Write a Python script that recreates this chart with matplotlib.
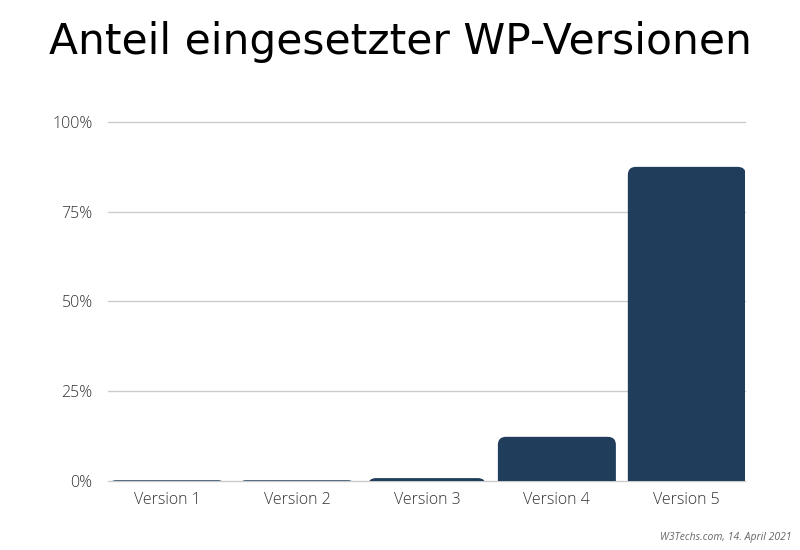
import matplotlib
matplotlib.use('Agg')
import matplotlib.pyplot as plt
from matplotlib.patches import FancyBboxPatch

# values (share of WordPress installs, %)
versions = ['Version 1', 'Version 2', 'Version 3', 'Version 4', 'Version 5']
shares = [0.2, 0.2, 0.8, 12.3, 87.5]
yticks = [0, 25, 50, 75, 100]
ytick_labels = ['0%', '25%', '50%', '75%', '100%']

bar_color = '#203d5b'
font = ['Open Sans', 'DejaVu Sans']

fig = plt.figure(figsize=(8, 5.5), dpi=100)
ax = fig.add_axes([0.135, 0.1255, 0.796, 0.6527])

xmin, xmax = -0.454, 4.446
ax.set_xlim(xmin, xmax)
ax.set_ylim(0, 100)

# convert pixel radius to data units for the rounded top corners
ax_w_px = 0.796 * 800
ax_h_px = 0.6527 * 550
px_x = (xmax - xmin) / ax_w_px
px_y = 100 / ax_h_px
radius_px = 8
r_x = radius_px * px_x
aspect = px_y / px_x

width = 0.908
for i, v in enumerate(shares):
    # extend below zero so the bottom corners get clipped away
    bottom = -radius_px * px_y * 2
    patch = FancyBboxPatch((i - width / 2, bottom), width, v - bottom,
                           boxstyle=f'round,pad=0,rounding_size={r_x}',
                           mutation_aspect=aspect,
                           facecolor=bar_color, edgecolor='none', zorder=3)
    ax.add_patch(patch)

for y in yticks:
    ax.axhline(y, color='#cccccc', lw=1, zorder=1, clip_on=False)

ax.set_yticks(yticks)
ax.set_yticklabels(ytick_labels)
ax.set_xticks(range(len(versions)))
ax.set_xticklabels(versions)
ax.tick_params(length=0, labelsize=11.5, labelcolor='#333333')
ax.tick_params(axis='x', pad=8)
ax.tick_params(axis='y', pad=11)
for lab in ax.get_xticklabels() + ax.get_yticklabels():
    lab.set_family(font)
    lab.set_fontweight('light')
for s in ax.spines.values():
    s.set_visible(False)

fig.text(0.5, 0.924, 'Anteil eingesetzter WP-Versionen', ha='center', va='center',
         fontsize=30.5, family=['DejaVu Sans'], color='black')
fig.text(0.99, 0.023, 'W3Techs.com, 14. April 2021', ha='right', va='center',
         fontsize=7.5, style='italic', family=font, color='#666666')

fig.savefig('out.png', dpi=100)
